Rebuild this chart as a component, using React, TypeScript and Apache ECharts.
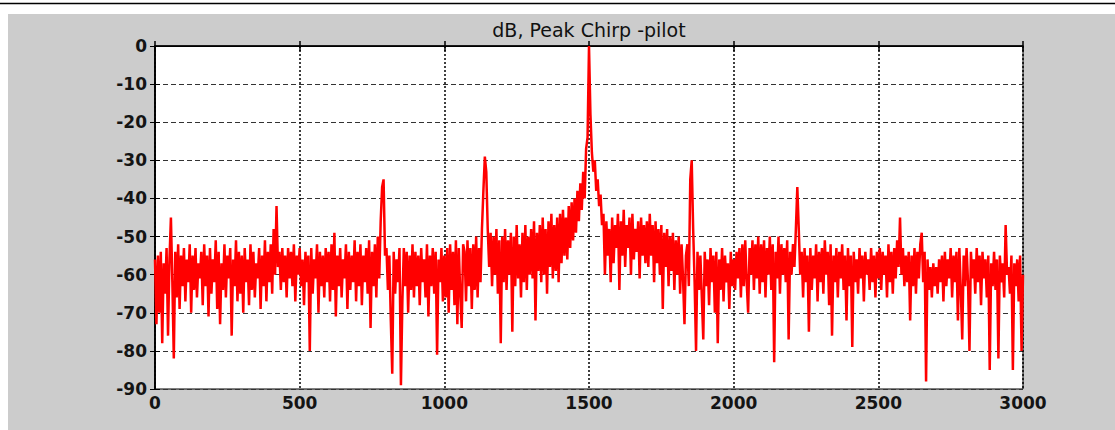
import React, { useEffect, useRef } from "react";
import * as echarts from "echarts";

// Sample step along the x axis (units of the x axis)
const STEP = 5;

// Spectrum values in dB, one value every 5 units
const seg0to495 = [
  -56, -73, -55, -70, -54, -78, -57, -65, -53, -76, -56, -45, -62, -82, -54, -66, -52, -69, -55, -63,
  -53, -67, -56, -62, -52, -70, -55, -64, -53, -66, -57, -61, -54, -68, -52, -63, -55, -71, -53, -65,
  -56, -62, -51, -69, -54, -73, -57, -64, -52, -66, -55, -61, -53, -76, -56, -63, -51, -67, -54, -65,
  -55, -70, -53, -62, -56, -68, -52, -64, -54, -66, -57, -61, -53, -69, -55, -63, -51, -67, -54, -62,
  -52, -65, -48, -60, -42, -58, -54, -64, -53, -62, -55, -66, -53, -61, -54, -63, -52, -67, -55, -60,
];
const seg500to995 = [
  -53, -63, -56, -68, -54, -62, -55, -80, -53, -65, -56, -61, -52, -70, -54, -63, -55, -66, -53, -62,
  -54, -67, -52, -64, -49, -71, -55, -63, -53, -66, -56, -61, -52, -69, -54, -64, -55, -62, -51, -67,
  -54, -63, -52, -68, -55, -62, -53, -65, -51, -74, -54, -63, -52, -66, -50, -61, -46, -37, -35, -55,
  -53, -64, -55, -72, -86, -54, -65, -56, -62, -53, -89, -67, -53, -63, -54, -70, -55, -64, -52, -66,
  -54, -63, -55, -68, -53, -62, -56, -66, -52, -71, -55, -63, -53, -65, -54, -81, -56, -62, -53, -67,
];
const seg1000to1495 = [
  -55, -66, -53, -70, -52, -64, -54, -68, -51, -73, -53, -65, -74, -52, -54, -67, -51, -63, -53, -69,
  -52, -64, -50, -66, -53, -62, -48, -38, -29, -33, -48, -58, -49, -63, -50, -60, -48, -65, -51, -78,
  -50, -62, -48, -64, -51, -60, -49, -75, -50, -63, -47, -61, -52, -66, -49, -62, -47, -64, -50, -60,
  -48, -61, -46, -72, -49, -59, -47, -62, -45, -60, -48, -65, -46, -58, -44, -61, -47, -59, -45, -62,
  -44, -57, -43, -55, -45, -56, -42, -53, -41, -51, -40, -49, -38, -46, -36, -43, -33, -40, -27, -24,
];
const seg1500to1995 = [
  0, -18, -28, -33, -30, -38, -35, -42, -39, -47, -44, -60, -46, -55, -48, -62, -45, -57, -47, -53,
  -44, -64, -46, -55, -43, -58, -47, -53, -45, -60, -44, -56, -48, -54, -46, -61, -45, -55, -47, -57,
  -46, -58, -44, -55, -47, -62, -46, -57, -48, -60, -47, -69, -49, -58, -48, -63, -50, -59, -49, -64,
  -51, -60, -50, -65, -52, -61, -73, -55, -52, -63, -35, -30, -48, -62, -80, -54, -64, -55, -66, -77,
  -54, -63, -56, -68, -53, -62, -55, -70, -54, -78, -56, -64, -53, -67, -55, -62, -57, -69, -54, -63,
];
const seg2000to2495 = [
  -56, -64, -54, -61, -53, -66, -52, -63, -51, -62, -70, -53, -60, -51, -64, -52, -61, -50, -65, -52,
  -62, -51, -66, -53, -60, -50, -64, -52, -83, -54, -61, -50, -65, -52, -60, -53, -62, -51, -77, -54,
  -60, -52, -58, -48, -37, -48, -60, -54, -66, -53, -62, -55, -75, -53, -64, -55, -61, -52, -67, -54,
  -62, -53, -65, -51, -60, -54, -68, -52, -76, -55, -62, -53, -66, -54, -61, -52, -64, -55, -72, -53,
  -63, -55, -79, -54, -62, -56, -65, -53, -61, -55, -67, -54, -60, -56, -64, -53, -62, -55, -66, -54,
];
const seg2500to3000 = [
  -61, -53, -64, -54, -60, -55, -66, -52, -62, -54, -65, -53, -61, -51, -58, -45, -60, -53, -63, -55,
  -62, -54, -72, -55, -63, -53, -65, -54, -61, -52, -49, -62, -54, -88, -56, -64, -58, -66, -57, -63,
  -58, -65, -56, -62, -55, -67, -54, -63, -56, -61, -53, -66, -55, -62, -54, -72, -53, -64, -77, -55,
  -63, -53, -62, -80, -54, -61, -56, -65, -53, -62, -55, -68, -54, -61, -56, -66, -55, -85, -57, -63,
  -54, -64, -56, -82, -55, -62, -57, -66, -47, -60, -58, -65, -55, -85, -57, -63, -56, -67, -55, -80,
  -60,
];

const dbValues = [
  ...seg0to495,
  ...seg500to995,
  ...seg1000to1495,
  ...seg1500to1995,
  ...seg2000to2495,
  ...seg2500to3000,
];

const xTicks = [0, 500, 1000, 1500, 2000, 2500, 3000];
const yTicks = [0, -10, -20, -30, -40, -50, -60, -70, -80, -90];
const titleText = "dB, Peak Chirp -pilot";

export default function App() {
  const ref = useRef<HTMLDivElement>(null);

  useEffect(() => {
    if (!ref.current) return;
    const chart = echarts.init(ref.current, undefined, { renderer: "svg" });
    const seriesData = dbValues.map((v, i) => [i * STEP, v]);
    const labelFont = {
      fontFamily: "DejaVu Sans",
      fontWeight: "bold" as const,
      fontSize: 17,
      color: "#141414",
    };
    chart.setOption({
      animation: false,
      backgroundColor: "transparent",
      graphic: [
        {
          type: "rect",
          z: -100,
          silent: true,
          shape: { x: 8, y: 14, width: 1107, height: 416 },
          style: { fill: "#cccccc" },
        },
        {
          type: "line",
          z: -100,
          silent: true,
          shape: { x1: 0, y1: 3.5, x2: 1115, y2: 3.5 },
          style: { stroke: "#000", lineWidth: 1.5 },
        },
      ],
      title: {
        text: titleText,
        left: 589,
        top: 20,
        textAlign: "center",
        textStyle: {
          fontFamily: "DejaVu Sans",
          fontWeight: "normal",
          fontSize: 19,
          color: "#111",
        },
        padding: 0,
      },
      grid: {
        left: 155,
        top: 46,
        width: 868,
        height: 343,
        show: true,
        backgroundColor: "#ffffff",
        borderColor: "#000",
        borderWidth: 1,
        containLabel: false,
      },
      xAxis: [
        {
          type: "value",
          min: xTicks[0],
          max: xTicks[xTicks.length - 1],
          interval: 500,
          axisLine: { show: true, lineStyle: { color: "#000", width: 1.5 } },
          axisTick: { show: true, inside: true, length: 5, lineStyle: { color: "#000", width: 1.5 } },
          axisLabel: { ...labelFont, margin: 5, formatter: (v: number) => String(v) },
          splitLine: {
            show: true,
            lineStyle: { color: "#000", width: 1.5, type: [2, 2] },
          },
        },
        {
          type: "value",
          position: "top",
          min: xTicks[0],
          max: xTicks[xTicks.length - 1],
          interval: 500,
          axisLine: { show: true, lineStyle: { color: "#000", width: 1 } },
          axisTick: { show: true, inside: true, length: 5, lineStyle: { color: "#000", width: 1.5 } },
          axisLabel: { show: false },
          splitLine: { show: false },
        },
      ],
      yAxis: [
        {
          type: "value",
          min: yTicks[yTicks.length - 1],
          max: yTicks[0],
          interval: 10,
          axisLine: { show: true, lineStyle: { color: "#000", width: 1.5 } },
          axisTick: { show: true, inside: true, length: 5, lineStyle: { color: "#000" } },
          axisLabel: { ...labelFont, margin: 8, formatter: (v: number) => String(v) },
          splitLine: {
            show: true,
            lineStyle: { color: "#333", width: 1.2, type: [5, 3] },
          },
        },
        {
          type: "value",
          position: "right",
          min: yTicks[yTicks.length - 1],
          max: yTicks[0],
          interval: 10,
          axisLine: { show: true, lineStyle: { color: "#000", width: 1.5 } },
          axisTick: { show: true, inside: true, length: 5, lineStyle: { color: "#000" } },
          axisLabel: { show: false },
          splitLine: { show: false },
        },
      ],
      series: [
        {
          type: "line",
          xAxisIndex: 0,
          yAxisIndex: 0,
          data: seriesData,
          showSymbol: false,
          symbol: "none",
          clip: true,
          lineStyle: { color: "#ff0000", width: 2.5 },
          itemStyle: { color: "#ff0000" },
        },
      ],
    });
    return () => {
      chart.dispose();
    };
  }, []);

  return (
    <div
      ref={ref}
      style={{ position: "absolute", left: 0, top: 0, width: 1115, height: 430 }}
    />
  );
}
